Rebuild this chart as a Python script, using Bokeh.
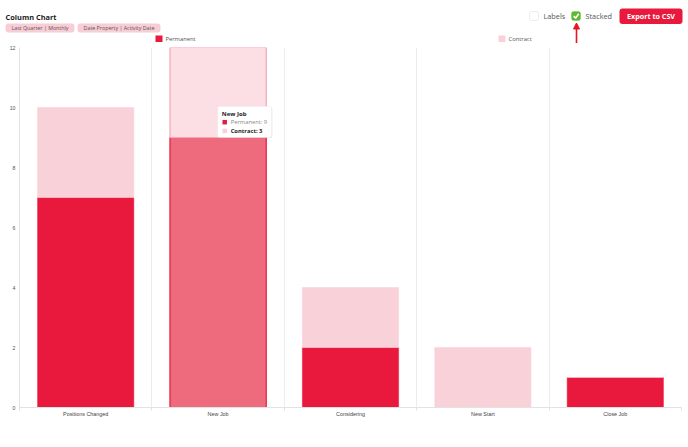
import numpy as np
from bokeh.plotting import figure
from bokeh.layouts import column
from bokeh.models import (ColumnDataSource, Range1d, FixedTicker, Label, BoxAnnotation,
                          Arrow, NormalHead)
from bokeh.embed import file_html
from bokeh.resources import INLINE

# ---------------- data ----------------
categories = ["Positions Changed", "New Job", "Considering", "New Start", "Close Job"]
permanent = [7, 9, 2, 0, 1]
contract = [3, 3, 2, 2, 0]
y_ticks = [0, 2, 4, 6, 8, 10, 12]
hovered = "New Job"
title_text = "Column Chart"
tags = ["Last Quarter | Monthly", "Date Property | Activity Date"]
series_names = ["Permanent", "Contract"]

PERM = "#e8193c"
CONT = "#f9d1d8"
PERM_H = "#ed6b7d"
CONT_H = "#fcdfe4"
FONT = "Open Sans"

W = 688
HH = 43
MH = 403

# ---------------- header ----------------
h = figure(width=W, height=HH, x_range=Range1d(0, W), y_range=Range1d(0, HH),
           x_axis_type=None, y_axis_type=None, toolbar_location=None,
           output_backend="svg", min_border=0)
h.frame_align = False
h.grid.visible = False
h.outline_line_color = None

def Y(v):
    return HH - v

h.add_layout(Label(x=5, y=Y(16), text=title_text, text_font=FONT, text_font_size="7.4px",
                   text_font_style="bold", text_color="#222", text_baseline="middle"))
tag_boxes = [(5, 74), (77, 160)]
for (l, r), t in zip(tag_boxes, tags):
    h.add_layout(BoxAnnotation(left=l, right=r, top=Y(23), bottom=Y(32), fill_color="#f8cdd5",
                               fill_alpha=1, line_color=None, border_radius=3, level="underlay"))
    h.add_layout(Label(x=(l + r) / 2, y=Y(27.6), text=t, text_font=FONT, text_font_size="5.3px",
                       text_color="#555555", text_align="center", text_baseline="middle"))
# legend
for (sx, tx), name, col in zip([(155, 165), (498, 508)], series_names, [PERM, CONT]):
    h.quad(left=[sx], right=[sx + 7], top=[Y(35)], bottom=[Y(41.5)], fill_color=col, line_color=None)
    h.add_layout(Label(x=tx, y=Y(38.3), text=name, text_font=FONT, text_font_size="5.8px",
                       text_color="#555555", text_baseline="middle"))
# checkboxes
h.add_layout(BoxAnnotation(left=529, right=538, top=Y(11), bottom=Y(20), fill_color="white",
                           fill_alpha=1, line_color="#b9bfc9", line_width=1, border_radius=2,
                           level="underlay"))
h.add_layout(Label(x=543, y=Y(15.8), text="Labels", text_font=FONT, text_font_size="7.3px",
                   text_color="#555555", text_baseline="middle"))
h.add_layout(BoxAnnotation(left=571, right=580, top=Y(11), bottom=Y(20), fill_color="#5db92f",
                           fill_alpha=1, line_color="#5db92f", border_radius=2, level="underlay"))
h.line([573.2, 575.2, 578.2], [Y(15.6), Y(17.6), Y(13.3)], line_color="white", line_width=1.6)
h.add_layout(Label(x=585, y=Y(15.8), text="Stacked", text_font=FONT, text_font_size="7.3px",
                   text_color="#555555", text_baseline="middle"))
# button
h.add_layout(BoxAnnotation(left=619, right=682, top=Y(8), bottom=Y(23.5), fill_color=PERM,
                           fill_alpha=1, line_color=None, border_radius=3, level="underlay"))
h.add_layout(Label(x=650.5, y=Y(15.8), text="Export to CSV", text_font=FONT, text_font_size="7.2px",
                   text_font_style="bold", text_color="white", text_align="center",
                   text_baseline="middle"))
# arrow
h.add_layout(Arrow(end=NormalHead(size=6, fill_color="#e8141e", line_color="#e8141e"),
                   x_start=576, y_start=Y(43), x_end=576, y_end=Y(22.5),
                   line_color="#e8141e", line_width=1.6))

# ---------------- main chart ----------------
n = len(categories)
xs = np.arange(n) + 0.5
perm = np.array(permanent, dtype=float)
cont = np.array(contract, dtype=float)
is_h = [c == hovered for c in categories]
src = ColumnDataSource(dict(
    x=xs, perm=perm, total=perm + cont,
    pcol=[PERM_H if f else PERM for f in is_h],
    ccol=[CONT_H if f else CONT for f in is_h],
    plc=[PERM for f in is_h],
    clc=["#f7a6b4" if f else CONT for f in is_h],
    plw=[1.2 if f else 0.5 for f in is_h],
))

p = figure(width=W, height=MH, x_range=Range1d(0, n), y_range=Range1d(0, max(y_ticks)),
           toolbar_location=None, output_backend="svg",
           min_border_top=4, min_border_bottom=39, min_border_left=19, min_border_right=7)
p.frame_align = False
p.outline_line_color = None
p.ygrid.grid_line_color = None
p.xgrid.grid_line_color = None
p.xgrid.minor_grid_line_color = "#ececec"

p.vbar(x="x", width=0.727, bottom=0, top="perm", fill_color="pcol", line_color="plc",
       line_width="plw", source=src)
p.vbar(x="x", width=0.727, bottom="perm", top="total", fill_color="ccol", line_color="clc",
       line_width="plw", source=src)

p.xaxis.ticker = FixedTicker(ticks=list(xs), minor_ticks=list(range(n + 1)))
p.xaxis.major_label_overrides = {float(x): c for x, c in zip(xs, categories)}
p.xaxis.major_tick_out = 0
p.xaxis.major_tick_in = 0
p.xaxis.minor_tick_out = 3
p.xaxis.minor_tick_in = 0
p.xaxis.minor_tick_line_color = "#e2e2e2"
p.xaxis.axis_line_color = "#e2e2e2"
p.xaxis.major_label_text_font = "Liberation Sans"
p.xaxis.major_label_text_font_size = "5.4px"
p.xaxis.major_label_text_color = "#444444"
p.xaxis.major_label_standoff = 0

p.yaxis.ticker = FixedTicker(ticks=y_ticks)
p.yaxis.major_tick_out = 0
p.yaxis.major_tick_in = 0
p.yaxis.minor_tick_line_color = None
p.yaxis.axis_line_color = "#e2e2e2"
p.yaxis.major_label_text_font = "Liberation Sans"
p.yaxis.major_label_text_font_size = "5.2px"
p.yaxis.major_label_text_color = "#555555"
p.yaxis.major_label_standoff = 4

# static tooltip for hovered column
hi = categories.index(hovered)
tx0 = xs[hi]
p.add_layout(BoxAnnotation(left=tx0 - 0.002, right=tx0 + 0.41, top=10.0, bottom=8.98,
                           fill_color="#000000", fill_alpha=0.08, line_color=None,
                           border_radius=2))
p.add_layout(BoxAnnotation(left=tx0 - 0.005, right=tx0 + 0.405, top=10.04, bottom=9.0,
                           fill_color="white", fill_alpha=1, line_color="#d8d8d8",
                           line_width=1, border_radius=2))
p.add_layout(Label(x=tx0 + 0.028, y=9.79, text=hovered, text_font=FONT, text_font_size="6px",
                   text_font_style="bold", text_color="#222", text_baseline="middle"))
p.scatter([tx0 + 0.05], [9.51], marker="square", size=4.5, fill_color=PERM, line_color=None,
          level="overlay")
p.add_layout(Label(x=tx0 + 0.095, y=9.51, text=f"{series_names[0]}: {permanent[hi]}",
                   text_font=FONT, text_font_size="5.8px", text_color="#888888",
                   text_baseline="middle"))
p.scatter([tx0 + 0.05], [9.22], marker="square", size=4.5, fill_color=CONT, line_color=None,
          level="overlay")
p.add_layout(Label(x=tx0 + 0.095, y=9.22, text=f"{series_names[1]}: {contract[hi]}",
                   text_font=FONT, text_font_size="5.8px", text_font_style="bold",
                   text_color="#222", text_baseline="middle"))

layout = column(h, p, spacing=0)
open("out.html", "w").write(file_html(layout, INLINE))
